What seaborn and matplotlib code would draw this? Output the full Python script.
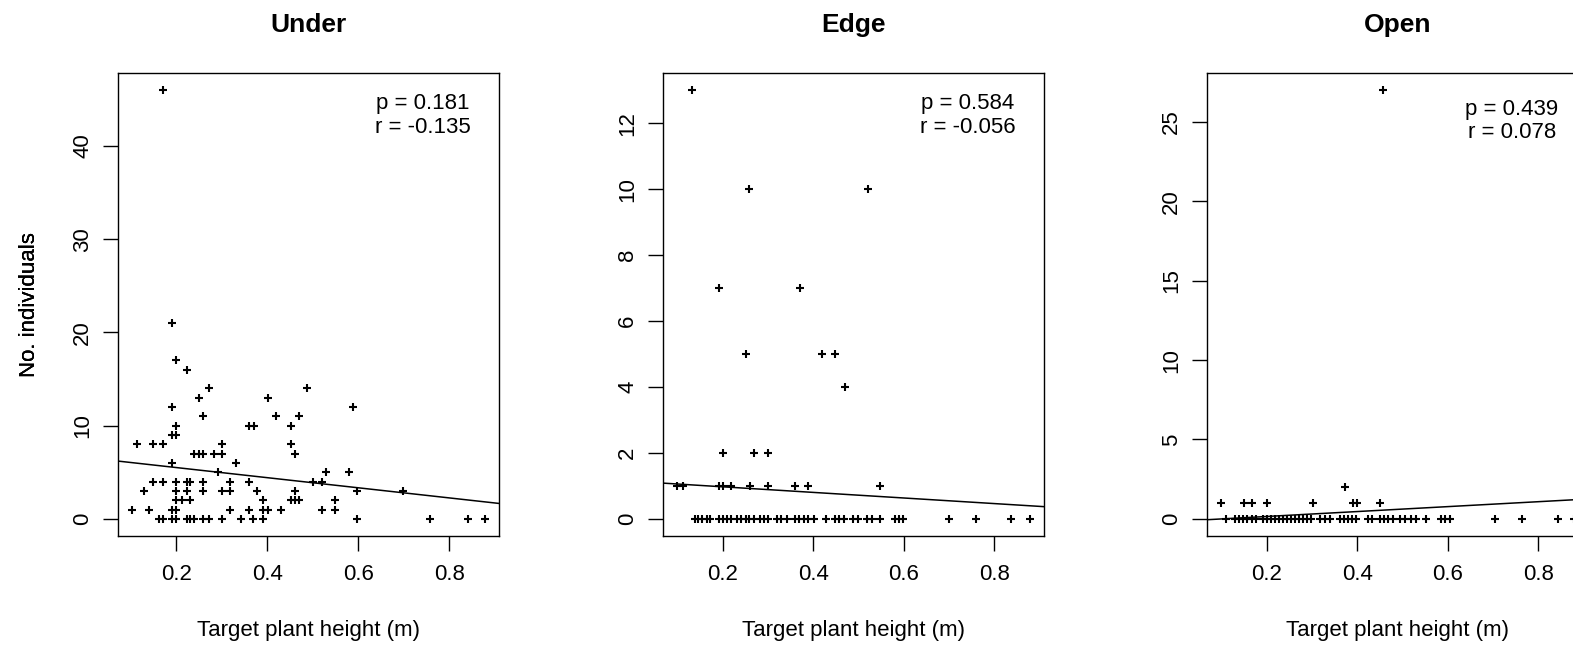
import numpy as np
import pandas as pd
import matplotlib
matplotlib.use('Agg')
import matplotlib.pyplot as plt
import seaborn as sns

# --- data ---
panel_titles = ["Under", "Edge", "Open"]

under_height = [
    0.171, 0.190, 0.200, 0.223, 0.272, 0.249, 0.401, 0.488, 0.190, 0.589,
    0.259, 0.419, 0.470, 0.200, 0.360, 0.370, 0.452, 0.190, 0.200,
    0.113, 0.149, 0.171, 0.300, 0.452,
    0.240, 0.249, 0.259, 0.282, 0.300, 0.461,
    0.190, 0.332, 0.292, 0.529, 0.579,
    0.149, 0.171, 0.200, 0.223, 0.231, 0.259, 0.319, 0.360, 0.501, 0.520,
    0.130, 0.200, 0.223, 0.259, 0.300, 0.319, 0.378, 0.461, 0.597, 0.699,
    0.200, 0.213, 0.231, 0.391, 0.452, 0.461, 0.470, 0.548,
    0.103, 0.140, 0.190, 0.200, 0.319, 0.360, 0.391, 0.401, 0.429, 0.520, 0.548,
    0.163, 0.171, 0.190, 0.200, 0.223, 0.231, 0.240, 0.259, 0.272, 0.300,
    0.342, 0.369, 0.391, 0.597, 0.758, 0.840, 0.878,
]
under_count = [
    46, 21, 17, 16, 14, 13, 13, 14, 12, 12,
    11, 11, 11, 10, 10, 10, 10, 9, 9,
    8, 8, 8, 8, 8,
    7, 7, 7, 7, 7, 7,
    6, 6, 5, 5, 5,
    4, 4, 4, 4, 4, 4, 4, 4, 4, 4,
    3, 3, 3, 3, 3, 3, 3, 3, 3, 3,
    2, 2, 2, 2, 2, 2, 2, 2,
    1, 1, 1, 1, 1, 1, 1, 1, 1, 1, 1,
    0, 0, 0, 0, 0, 0, 0, 0, 0, 0,
    0, 0, 0, 0, 0, 0, 0,
]

edge_height = [
    0.132, 0.259, 0.520, 0.191, 0.370, 0.251, 0.420, 0.447, 0.471,
    0.200, 0.269, 0.300,
    0.099, 0.113, 0.191, 0.200, 0.218, 0.261, 0.300, 0.360, 0.388, 0.548,
    0.138, 0.145, 0.154, 0.164, 0.172, 0.191, 0.200, 0.210, 0.218,
    0.232, 0.241, 0.251, 0.259, 0.269, 0.282, 0.291, 0.300,
    0.319, 0.328, 0.342, 0.360, 0.369, 0.379, 0.388, 0.402, 0.429,
    0.447, 0.456, 0.468, 0.487, 0.498, 0.519, 0.530, 0.548,
    0.580, 0.589, 0.598, 0.700, 0.760, 0.837, 0.879,
]
edge_count = [
    13, 10, 10, 7, 7, 5, 5, 5, 4,
    2, 2, 2,
    1, 1, 1, 1, 1, 1, 1, 1, 1, 1,
    0, 0, 0, 0, 0, 0, 0, 0, 0,
    0, 0, 0, 0, 0, 0, 0, 0,
    0, 0, 0, 0, 0, 0, 0, 0, 0,
    0, 0, 0, 0, 0, 0, 0, 0,
    0, 0, 0, 0, 0, 0, 0,
]

open_height = [
    0.458, 0.372,
    0.099, 0.150, 0.168, 0.200, 0.302, 0.390, 0.400, 0.451,
    0.110, 0.130, 0.139, 0.148, 0.157, 0.167, 0.176,
    0.191, 0.200, 0.209, 0.218, 0.227, 0.235, 0.244, 0.253, 0.262,
    0.271, 0.280, 0.288, 0.297, 0.318, 0.329, 0.340,
    0.361, 0.370, 0.379, 0.388, 0.397, 0.424, 0.432,
    0.450, 0.460, 0.469, 0.478, 0.494, 0.505, 0.519, 0.530, 0.553,
    0.586, 0.595, 0.604, 0.704, 0.764, 0.843, 0.879,
]
open_count = [
    27, 2,
    1, 1, 1, 1, 1, 1, 1, 1,
    0, 0, 0, 0, 0, 0, 0,
    0, 0, 0, 0, 0, 0, 0, 0, 0,
    0, 0, 0, 0, 0, 0, 0,
    0, 0, 0, 0, 0, 0, 0,
    0, 0, 0, 0, 0, 0, 0, 0, 0,
    0, 0, 0, 0, 0, 0, 0,
]

# fitted lines (intercept, slope) and the reported statistics
fit_intercept = [6.59, 1.141, -0.16]
fit_slope = [-5.43, -0.847, 1.55]
p_values = ["0.181", "0.584", "0.439"]
r_values = ["-0.135", "-0.056", "0.078"]

x_ticks = [0.2, 0.4, 0.6, 0.8]
y_ticks = [
    [0, 10, 20, 30, 40],
    [0, 2, 4, 6, 8, 10, 12],
    [0, 5, 10, 15, 20, 25],
]

heights = [under_height, edge_height, open_height]
counts = [under_count, edge_count, open_count]

# --- styling ---
sns.set_style("ticks")
plt.rcParams['font.family'] = ['Liberation Sans', 'DejaVu Sans']
plt.rcParams['text.color'] = 'black'
plt.rcParams['axes.labelcolor'] = 'black'

W, H = 1573, 645
fig = plt.figure(figsize=(W / 100, H / 100), dpi=100)

ax_left_px = [118, 663, 1207]
ax_top_px, ax_bottom_px, ax_w_px = 73, 536, 381
stat_y = [(108.5, 132.7), (108.5, 132.7), (115.0, 137.5)]


def r_range(v):
    lo, hi = min(v), max(v)
    pad = 0.04 * (hi - lo)
    return lo - pad, hi + pad


for i in range(3):
    ax = fig.add_axes([
        ax_left_px[i] / W,
        (H - ax_bottom_px) / H,
        ax_w_px / W,
        (ax_bottom_px - ax_top_px) / H,
    ])
    df = pd.DataFrame({"height": heights[i], "count": counts[i]})
    sns.scatterplot(data=df, x="height", y="count", marker="+", color="black",
                    s=28, linewidth=1.5, ax=ax, legend=False)
    ax.axline((0, fit_intercept[i]), slope=fit_slope[i], color="black", lw=1.1)

    ax.set_xlim(*r_range(df["height"]))
    ax.set_ylim(*r_range(df["count"]))
    ax.set_xticks(x_ticks)
    ax.set_xticklabels([f"{t:.1f}" for t in x_ticks])
    ax.set_yticks(y_ticks[i])
    for s in ax.spines.values():
        s.set_visible(True)
        s.set_linewidth(1.0)
        s.set_color("black")
    ax.tick_params(axis="both", direction="out", length=10.8, width=1.0,
                   labelsize=16, colors="black")
    ax.tick_params(axis="x", pad=9)
    ax.tick_params(axis="y", pad=7)
    plt.setp(ax.get_yticklabels(), rotation=90, va="center")

    ax.set_xlabel("Target plant height (m)", fontsize=16)
    ax.set_ylabel("No. individuals", fontsize=16)
    hpx = ax_bottom_px - ax_top_px
    ax.xaxis.set_label_coords(0.5, (ax_bottom_px - 636) / hpx)
    ax.xaxis.label.set_va("baseline")
    ax.yaxis.set_label_coords((35 - ax_left_px[i]) / ax_w_px, 0.5)
    ax.yaxis.label.set_va("baseline")

    ax.text(0.5, (ax_bottom_px - 32) / hpx, panel_titles[i], transform=ax.transAxes,
            ha="center", va="baseline", fontsize=19, fontweight="bold")
    ax.text(0.80, (ax_bottom_px - stat_y[i][0]) / hpx, f"p = {p_values[i]}",
            transform=ax.transAxes, ha="center", va="baseline", fontsize=16)
    ax.text(0.80, (ax_bottom_px - stat_y[i][1]) / hpx, f"r = {r_values[i]}",
            transform=ax.transAxes, ha="center", va="baseline", fontsize=16)

fig.savefig("out.png", dpi=100)
plt.close(fig)
